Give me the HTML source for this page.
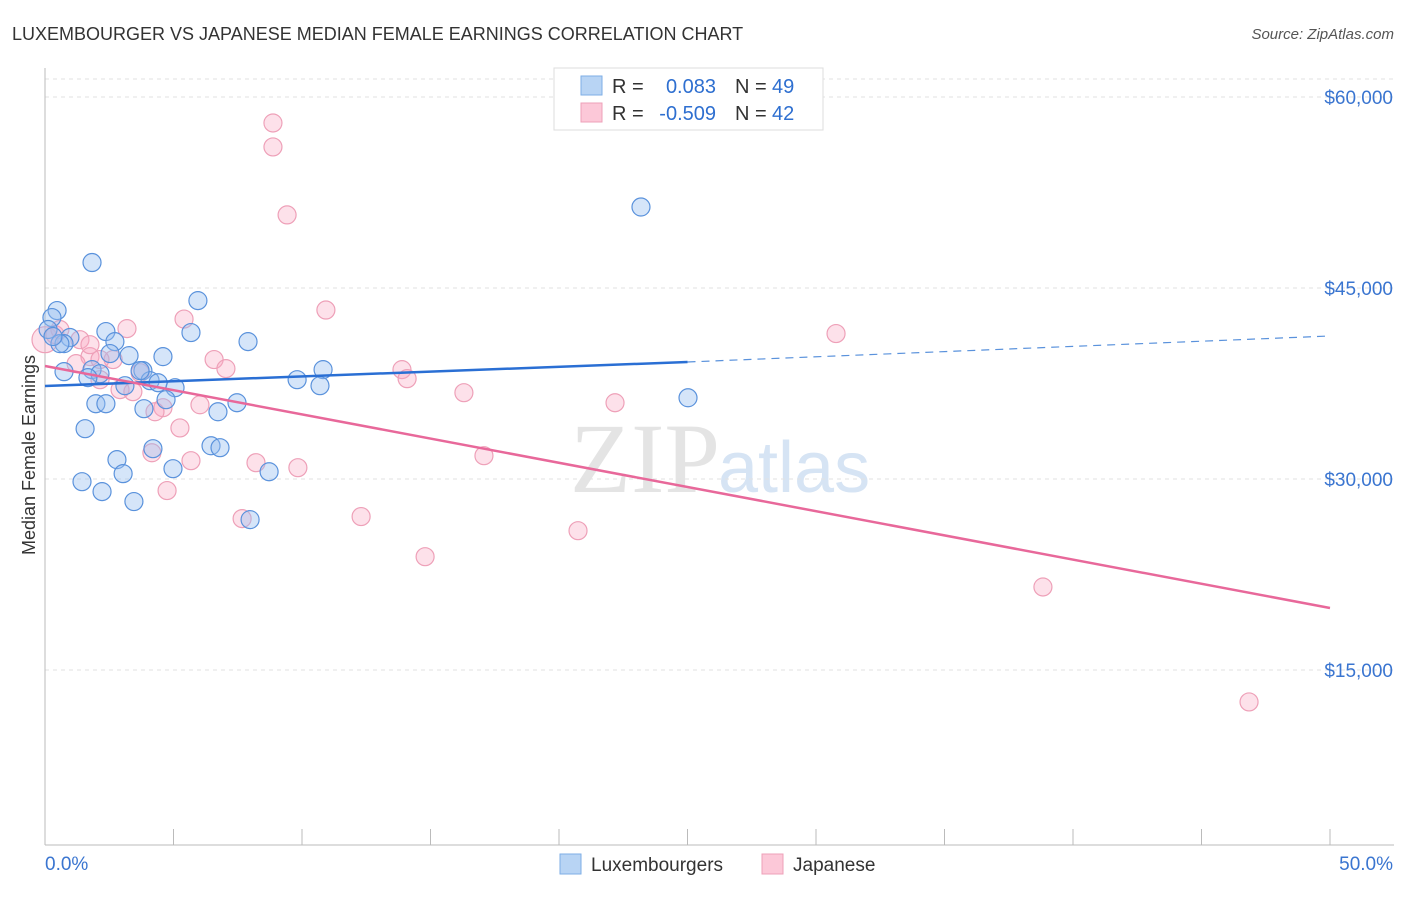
<!DOCTYPE html>
<html><head><meta charset="utf-8"><style>
body{margin:0;background:#fff;font-family:"Liberation Sans",sans-serif;}
</style></head><body>
<svg id="c" width="1406" height="892" xmlns="http://www.w3.org/2000/svg">
<text x="12" y="40" font-size="18" fill="#333">LUXEMBOURGER VS JAPANESE MEDIAN FEMALE EARNINGS CORRELATION CHART</text>
<text x="1394" y="39" font-size="15" fill="#555" font-style="italic" text-anchor="end">Source: ZipAtlas.com</text>
<text x="720" y="492" font-size="100" fill="#e4e4e4" text-anchor="end" font-family="Liberation Serif,serif">ZIP</text>
<text x="718" y="492" font-size="72" fill="#d6e4f4">atlas</text>
<g id="grid"></g><g id="axes"></g><g id="pts"></g><g id="lines"></g>
<text x="35" y="455" font-size="18" fill="#333" text-anchor="middle" transform="rotate(-90 35 455)">Median Female Earnings</text>
<g>
<rect x="554" y="68" width="269" height="62" fill="#fff" stroke="#ddd"/>
<rect x="581" y="76" width="21" height="19" fill="#b8d4f4" stroke="#7eaee6"/>
<rect x="581" y="103" width="21" height="19" fill="#fcc8d8" stroke="#eea0b8"/>
<text x="612" y="93" font-size="20" fill="#333">R =</text><text x="716" y="93" font-size="20" fill="#2e6fd0" text-anchor="end">0.083</text>
<text x="735" y="93" font-size="20" fill="#333">N =</text><text x="772" y="93" font-size="20" fill="#2e6fd0">49</text>
<text x="612" y="120" font-size="20" fill="#333">R =</text><text x="716" y="120" font-size="20" fill="#2e6fd0" text-anchor="end">-0.509</text>
<text x="735" y="120" font-size="20" fill="#333">N =</text><text x="772" y="120" font-size="20" fill="#2e6fd0">42</text>
</g>
<g>
<rect x="560" y="854" width="21" height="20" fill="#b8d4f4" stroke="#7eaee6"/>
<text x="591" y="871" font-size="19" fill="#333">Luxembourgers</text>
<rect x="762" y="854" width="21" height="20" fill="#fcc8d8" stroke="#eea0b8"/>
<text x="793" y="871" font-size="19" fill="#333">Japanese</text>
</g>
</svg>
<script>
const yTicks=[15000,30000,45000,60000];
const yTickLabels=["$15,000","$30,000","$45,000","$60,000"];
const xTickLabels=["0.0%","50.0%"];
const luxX=[1.83,0.47,0.27,0.12,2.37,0.97,2.72,0.74,3.27,4.59,1.83,0.74,2.14,1.67,3.81,3.11,4.09,4.40,5.06,4.71,5.95,5.68,7.90,1.98,2.37,3.85,7.47,6.73,1.56,4.20,6.46,6.81,2.80,4.98,3.04,1.44,2.22,3.46,7.98,8.72,9.81,10.82,10.70,23.19,25.02,0.58,0.31,3.70,2.53];
const luxY=[47000,43230,42680,41740,41580,41110,40790,40630,39690,39610,38590,38430,38270,37960,38510,37330,37720,37560,37170,36230,44010,41500,40790,35910,35910,35520,35990,35280,33950,32380,32610,32460,31520,30810,30420,29790,29010,28230,26810,30570,37800,38590,37330,51360,36380,40630,41190,38510,39850];
const japX=[0.0,0.39,1.36,3.19,1.75,2.65,1.21,2.14,2.92,3.42,4.59,4.28,5.41,6.58,7.04,5.25,6.03,4.16,5.68,4.75,8.87,8.87,9.42,10.93,8.21,9.84,7.67,12.30,13.89,14.09,16.30,17.08,14.79,20.74,22.18,30.78,38.83,46.85,1.75,3.70,0.58,2.14];
const japY=[40940,41340,40940,41810,39610,39380,39060,37800,37020,36860,35600,35280,42560,39380,38670,34010,35830,32060,31440,29090,57960,56080,50740,43270,31280,30890,26890,27050,38590,37880,36780,31830,23900,25940,35990,41420,21520,12490,40550,38350,41740,39380];
const luxTrend=[37300,39190,41230];
const japTrend=[38875,19870];
const X0=45,X1=1330,Y0=861,PX=(X1-X0)/50,PY=191/15000;
const sx=v=>X0+v*PX, sy=v=>Y0-v*PY;
const NS="http://www.w3.org/2000/svg";
function mk(t,a,p){const e=document.createElementNS(NS,t);for(const k in a)e.setAttribute(k,a[k]);document.getElementById(p).appendChild(e);return e;}
yTicks.forEach((v,i)=>{
 const l=mk('line',{x1:X0,x2:1394,y1:sy(v),y2:sy(v),stroke:'#e2e2e2','stroke-dasharray':'4,4'},'grid');
 
 
 const t=mk('text',{x:1393,y:sy(v)+7,'font-size':19,fill:'#3a75d0','text-anchor':'end'},'axes');
 t.textContent=yTickLabels[i];
 
 
});
const topGrid=mk('line',{x1:X0,x2:1394,y1:79,y2:79,stroke:'#e2e2e2','stroke-dasharray':'4,4'},'grid');


const ya=mk('line',{x1:X0,x2:X0,y1:68,y2:845,stroke:'#bbb'},'axes');


const xa=mk('line',{x1:X0,x2:1394,y1:845,y2:845,stroke:'#bbb'},'axes');


for(let i=0;i<=10;i++){const tk=mk('line',{x1:sx(i*5),x2:sx(i*5),y1:829,y2:845,stroke:'#bbb'},'axes');
 
 }
[[0,'start',45],[50,'end',1393]].forEach((d,i)=>{const t=mk('text',{x:d[2],y:870,'font-size':19,fill:'#3a75d0','text-anchor':d[1]},'axes');t.textContent=xTickLabels[i];
 
 });
japX.forEach((x,i)=>{const c=mk('circle',{cx:sx(x),cy:sy(japY[i]),r:i==0?13:9,fill:'rgba(248,170,195,0.35)',stroke:'#eea0b8','stroke-width':1.2},'pts');
 
 });
luxX.forEach((x,i)=>{const c=mk('circle',{cx:sx(x),cy:sy(luxY[i]),r:9,fill:'rgba(150,190,240,0.4)',stroke:'#5a92dc','stroke-width':1.2},'pts');
 
 });
const l1=mk('line',{x1:sx(0),y1:sy(luxTrend[0]),x2:sx(25),y2:sy(luxTrend[1]),stroke:'#2a6fd4','stroke-width':2.5},'lines');


const l2=mk('line',{x1:sx(25),y1:sy(luxTrend[1]),x2:sx(50),y2:sy(luxTrend[2]),stroke:'#5a92dc','stroke-width':1.2,'stroke-dasharray':'8,6'},'lines');


const l3=mk('line',{x1:sx(0),y1:sy(japTrend[0]),x2:sx(50),y2:sy(japTrend[1]),stroke:'#e8689a','stroke-width':2.5},'lines');


</script>
</body></html>
